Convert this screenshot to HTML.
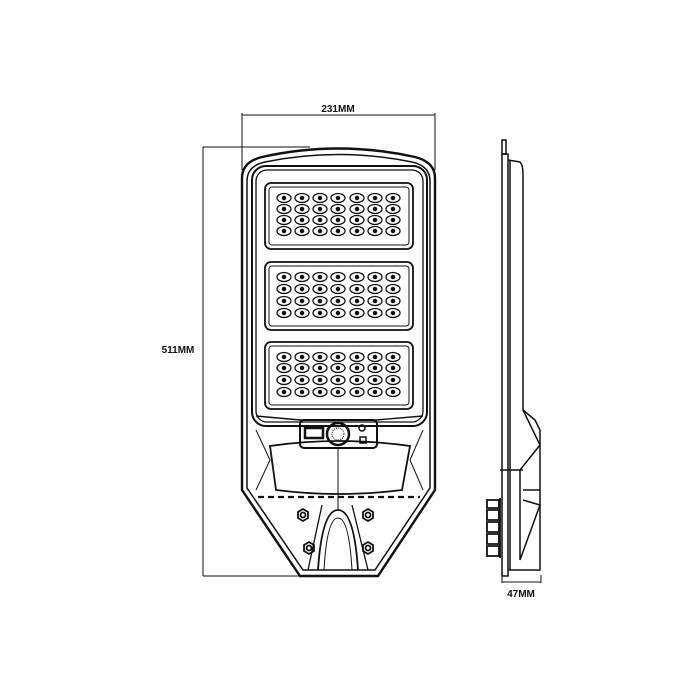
<!DOCTYPE html>
<html><head><style>body{margin:0;background:#fff}svg{display:block}</style></head><body>
<svg width="700" height="700" viewBox="0 0 700 700" xmlns="http://www.w3.org/2000/svg" fill="none" stroke="#111" font-family="Liberation Sans, sans-serif">
<g stroke-width="1">
<line x1="242" y1="115" x2="435" y2="115"/>
<line x1="242" y1="113" x2="242" y2="170"/>
<line x1="435" y1="113" x2="435" y2="170"/>
<line x1="203" y1="147" x2="310" y2="147"/>
<line x1="203" y1="147" x2="203" y2="576"/>
<line x1="203" y1="576" x2="310" y2="576"/>
<line x1="502" y1="575" x2="502" y2="583"/>
<line x1="541" y1="575" x2="541" y2="583"/>
<line x1="502" y1="582" x2="541" y2="582"/>
</g>
<g fill="#111" stroke="none" font-weight="bold" font-size="10">
<text x="338" y="112" text-anchor="middle">231MM</text>
<text x="178" y="353" text-anchor="middle">511MM</text>
<text x="521" y="597" text-anchor="middle">47MM</text>
</g>
<path d="M242,178 Q242,162 262,157 Q338,140 415,157 Q435,162 435,178 L435,490 L378,576 L300,576 L242,490 Z" stroke-width="2.4"/>
<path d="M247,181 Q247,166 265,162 Q338,147 412,162 Q430,166 430,181 L430,488 L375,570 L303,570 L247,488 Z" stroke-width="1.5"/>
<rect x="252" y="166" width="175" height="260" rx="14" stroke-width="2"/>
<rect x="256" y="170" width="167" height="252" rx="11" stroke-width="1.3"/>
<g stroke-width="1.8">
<rect x="265" y="183" width="148" height="66" rx="6"/>
<rect x="269" y="187" width="140" height="58" rx="3" stroke-width="1"/>
<rect x="265" y="262" width="148" height="68" rx="6"/>
<rect x="269" y="266" width="140" height="60" rx="3" stroke-width="1"/>
<rect x="265" y="342" width="148" height="67" rx="6"/>
<rect x="269" y="346" width="140" height="59" rx="3" stroke-width="1"/>
</g>
<g id="leds" stroke-width="1.3"></g>
<path d="M256,416 L300,420 L376,420 L423,416" stroke-width="1.4"/>
<rect x="300" y="420" width="77" height="28" rx="4" stroke-width="2"/>
<circle cx="338" cy="434" r="11" stroke-width="2.5"/>
<circle cx="338" cy="434" r="6" stroke-width="1" stroke-dasharray="1 1"/>
<rect x="305" y="428" width="18" height="10" stroke-width="2.5"/>
<circle cx="362" cy="428" r="3" stroke-width="1.5"/>
<rect x="360" y="437" width="6" height="6" stroke-width="1.5"/>
<path d="M270,446 Q338,436 410,446 L402,490 Q338,498 276,490 Z" stroke-width="1.8"/>
<line x1="338" y1="448" x2="338" y2="510" stroke-width="1"/>
<line x1="258" y1="497" x2="420" y2="497" stroke-width="2.2" stroke-dasharray="6 4"/>
<path d="M256,430 L270,460 L256,490 M423,430 L410,460 L423,490" stroke-width="1"/>
<path d="M322,505 L308,570 M352,505 L368,570" stroke-width="1.3"/>
<path d="M318,570 Q322,510 338,510 Q354,510 358,570" stroke-width="1.8"/>
<path d="M324,570 Q327,518 338,518 Q349,518 352,570" stroke-width="1"/>
<g stroke-width="1.8">
<polygon points="303,509 308,512 308,518 303,521 298,518 298,512"/><circle cx="303" cy="515" r="2.5"/>
<polygon points="368,509 373,512 373,518 368,521 363,518 363,512"/><circle cx="368" cy="515" r="2.5"/>
<polygon points="309,542 314,545 314,551 309,554 304,551 304,545"/><circle cx="309" cy="548" r="2.5"/>
<polygon points="368,542 373,545 373,551 368,554 363,551 363,545"/><circle cx="368" cy="548" r="2.5"/>
</g>
<g stroke-width="1.5">
<rect x="502" y="140" width="4" height="14"/>
<rect x="502" y="154" width="6" height="422"/>
<line x1="510" y1="160" x2="510" y2="570"/>
<path d="M508,160 L520,162 Q523,165 523,175 L523,410 L535,420 L540,430 L540,570 L508,570"/>
<path d="M523,410 L540,445 L520,470 M520,470 L520,560 M523,490 L540,490 M523,500 L540,505 L520,560"/>
<line x1="500" y1="470" x2="523" y2="470"/>
<path d="M500,498 L500,558 M487,500 h12 v8 h-12 z M487,510 h12 v10 h-12 z M487,522 h12 v10 h-12 z M487,534 h12 v10 h-12 z M487,546 h12 v10 h-12 z" stroke-width="1.8"/>
</g>
</svg>
<script>
var g=document.getElementById('leds'),ns='http://www.w3.org/2000/svg';
var cols=[284,302,320,338,357,375,393],rows=[198,209,220,231,277,289,301,313,357,368,380,392];
rows.forEach(function(y){cols.forEach(function(x){
var e=document.createElementNS(ns,'ellipse');e.setAttribute('cx',x);e.setAttribute('cy',y);e.setAttribute('rx',7);e.setAttribute('ry',4.5);g.appendChild(e);
var c=document.createElementNS(ns,'circle');c.setAttribute('cx',x);c.setAttribute('cy',y);c.setAttribute('r',1.6);c.setAttribute('fill','#111');g.appendChild(c);
});});
</script>
</body></html>
